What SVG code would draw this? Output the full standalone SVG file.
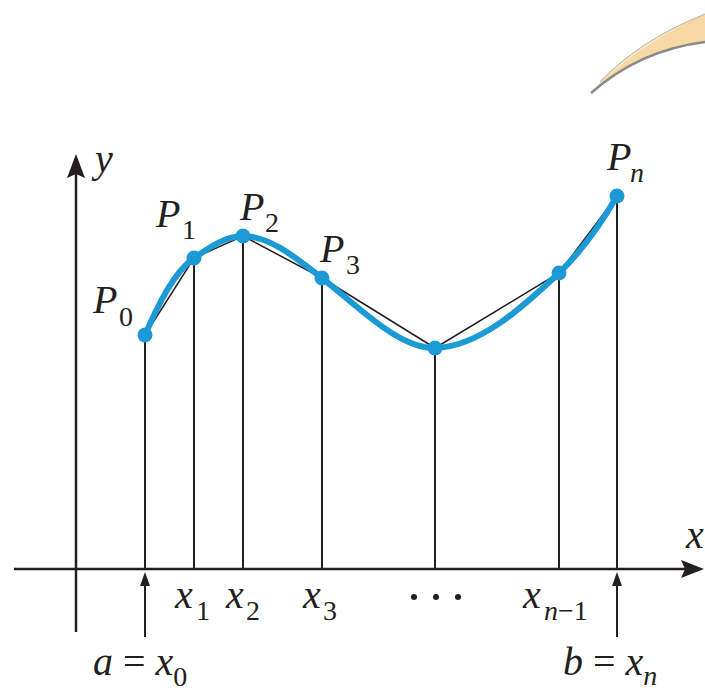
<svg xmlns="http://www.w3.org/2000/svg" width="705" height="693" viewBox="0 0 705 693">
<defs>
  <path id="ahUp" d="M0,0 L5,14 L-5,14 Z"/>
</defs>
<rect width="705" height="693" fill="#ffffff"/>
<g id="swoosh">
  <path d="M591,93 Q630,48 705,14 L705,42 Q650,48 600,86 Z" fill="#f7d9a6" stroke="none"/>
  <path d="M591,93 Q640,50 705,42" stroke="#8a8a8a" stroke-width="2.5" fill="none"/>
  <path d="M600,82 Q640,40 705,14" stroke="#c9b9a0" stroke-width="1.2" fill="none"/>
</g>
<g id="connectors" stroke="#231f20" fill="none">
  <g stroke-width="2.5">
    <line x1="76" y1="632" x2="76" y2="172"/>
    <line x1="14" y1="569" x2="688" y2="569"/>
  </g>
  <g fill="#231f20" stroke="none">
    <path d="M76,154 L85,178 L76,174 L67,178 Z"/>
    <path d="M704,569 L681,578 L685,569 L681,560 Z"/>
    <use href="#ahUp" x="145" y="572"/>
    <use href="#ahUp" x="617" y="572"/>
  </g>
  <g stroke-width="2">
    <line x1="145" y1="335" x2="145" y2="569"/>
    <line x1="194" y1="258" x2="194" y2="569"/>
    <line x1="243" y1="236" x2="243" y2="569"/>
    <line x1="322" y1="278" x2="322" y2="569"/>
    <line x1="435" y1="348" x2="435" y2="569"/>
    <line x1="559" y1="273" x2="559" y2="569"/>
    <line x1="617" y1="196" x2="617" y2="569"/>
    <line x1="145" y1="637" x2="145" y2="584"/>
    <line x1="617" y1="637" x2="617" y2="584"/>
  </g>
  <polyline stroke-width="1.5" points="145,335 194,258 243,236 322,278 435,348 559,273 617,196"/>
  <path stroke="#1c9ad6" stroke-width="6" stroke-linecap="round" stroke-linejoin="round" d="M145,335 C158,305 174,272 194,258 C210,247 226,236 243,236 C270,236 296,258 322,278 C362,310 400,349 435,348 C480,347 525,305 559,273 C584,249 602,222 617,196"/>
</g>
<g font-family="Liberation Serif" font-style="italic" font-size="40" fill="#231f20">
<g id="P0"><circle fill="#1c9ad6" cx="145" cy="335" r="7.5"/><text x="93" y="313">P<tspan x="119" y="326" font-style="normal" font-size="28">0</tspan></text></g>
<g id="P1"><circle fill="#1c9ad6" cx="194" cy="258" r="7.5"/><text x="156" y="227">P<tspan x="182" y="239" font-style="normal" font-size="28">1</tspan></text></g>
<g id="P2"><circle fill="#1c9ad6" cx="243" cy="236" r="7.5"/><text x="240" y="220">P<tspan x="265" y="232" font-style="normal" font-size="28">2</tspan></text></g>
<g id="P3"><circle fill="#1c9ad6" cx="322" cy="278" r="7.5"/><text x="320" y="262">P<tspan x="346" y="274" font-style="normal" font-size="28">3</tspan></text></g>
<g id="Pk"><circle fill="#1c9ad6" cx="435" cy="348" r="7.5"/></g>
<g id="Pn1"><circle fill="#1c9ad6" cx="559" cy="273" r="7.5"/></g>
<g id="Pn"><circle fill="#1c9ad6" cx="617" cy="196" r="7.5"/><text x="607" y="170">P<tspan x="630" y="182" font-size="28">n</tspan></text></g>
<g id="labels">
  <text x="95" y="172">y</text>
  <text x="686" y="548">x</text>
  <text x="175" y="608">x<tspan x="196" y="620" font-style="normal" font-size="28">1</tspan></text>
  <text x="226" y="608">x<tspan x="246" y="620" font-style="normal" font-size="28">2</tspan></text>
  <text x="303" y="608">x<tspan x="323" y="620" font-style="normal" font-size="28">3</tspan></text>
  <g id="dots"><circle cx="414" cy="597" r="3"/><circle cx="436" cy="597" r="3"/><circle cx="458" cy="597" r="3"/></g>
  <text x="523" y="608">x<tspan x="544" y="620" font-size="28">n</tspan><tspan font-style="normal" font-size="28">−1</tspan></text>
  <text x="93" y="675">a <tspan font-style="normal">=</tspan> x<tspan y="686" font-style="normal" font-size="28">0</tspan></text>
  <text x="563" y="675">b <tspan font-style="normal">=</tspan> x<tspan y="685" font-size="28">n</tspan></text>
</g>
</g>
</svg>
